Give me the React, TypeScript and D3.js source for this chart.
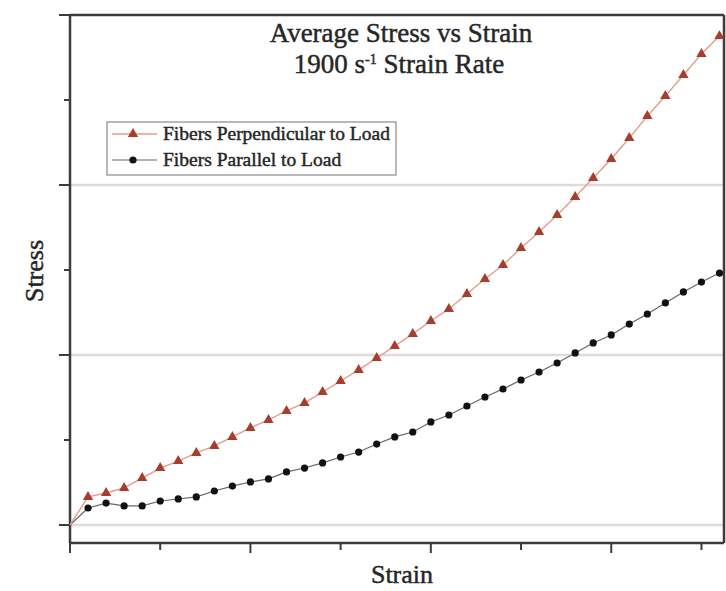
import React from 'react';
import * as d3 from 'd3';

const WIDTH = 726;
const HEIGHT = 591;

// strain values (one reading every 0.002)
const strain = [
  0, 0.002, 0.004, 0.006, 0.008, 0.01, 0.012, 0.014, 0.016, 0.018,
  0.02, 0.022, 0.024, 0.026, 0.028, 0.03, 0.032, 0.034, 0.036, 0.038,
  0.04, 0.042, 0.044, 0.046, 0.048, 0.05, 0.052, 0.054, 0.056, 0.058,
  0.06, 0.062, 0.064, 0.066, 0.068, 0.07, 0.072,
];

const perpendicular = [
  0, 16.5, 18.8, 21.8, 27.6, 33.5, 37.6, 42.4, 46.5, 51.8,
  57.1, 61.8, 67.1, 71.8, 78.2, 84.7, 91.2, 98.2, 105.3, 112.4,
  120, 127.1, 135.9, 144.7, 152.9, 162.9, 172.4, 182.4, 192.9, 204.1,
  215.3, 227.6, 240.6, 252.4, 264.7, 277.1, 287.6,
];

const parallel = [
  0, 10, 12.9, 11.2, 11.2, 14.1, 15.3, 16.5, 20, 22.9,
  25.3, 27.1, 31.2, 33.5, 36.5, 40, 42.9, 47.6, 51.8, 54.7,
  60.6, 64.7, 70, 75.3, 80, 85.3, 90, 95.3, 101.2, 107.1,
  111.8, 118.2, 124.1, 130.6, 137.1, 142.9, 148.2,
];

const xMajorTicks = [0, 0.02, 0.04, 0.06];
const xMinorTicks = [0.01, 0.03, 0.05, 0.07];
const yMajorTicks = [0, 100, 200, 300];
const yMinorTicks = [50, 150, 250];

const seriesNames = ['Fibers Perpendicular to Load', 'Fibers Parallel to Load'];

const COLORS = {
  axis: '#3c3c3c',
  grid: '#e0dada',
  text: '#262626',
  perpMarker: '#a63e2f',
  perpLine: '#e59b8b',
  paraMarker: '#111111',
  paraLine: '#666666',
};

const FONT = '"Liberation Serif", "Times New Roman", serif';

// slight stroke so the serif text reads as heavy as the scanned original
const heavy = { stroke: COLORS.text, strokeWidth: 0.45 };

export default function App() {
  const margin = { top: 15, right: 2, bottom: 48, left: 70 };
  const x0 = margin.left;
  const x1 = WIDTH - margin.right;
  const yTop = margin.top;
  const yBottom = HEIGHT - margin.bottom;

  const x = d3.scaleLinear().domain([0, 0.0725]).range([x0, x1]);
  const y = d3.scaleLinear().domain([-10.6, 300]).range([yBottom, yTop]);

  const perpData = strain.map((s, i) => ({ s, v: perpendicular[i] }));
  const paraData = strain.map((s, i) => ({ s, v: parallel[i] }));

  const line = d3.line<{ s: number; v: number }>()
    .x((d) => x(d.s))
    .y((d) => y(d.v));

  const triangle = d3.symbol().type(d3.symbolTriangle).size(46)() || '';

  const legend = { x: 107, y: 122, w: 289, h: 53 };

  return (
    <svg
      width={WIDTH}
      height={HEIGHT}
      style={{ position: 'absolute', left: 0, top: 0, background: '#fff' }}
      fontFamily={FONT}
    >
      <rect x={0} y={0} width={WIDTH} height={HEIGHT} fill="#fff" />

      {/* grid lines at major stress ticks */}
      {yMajorTicks.slice(0, 3).map((t) => (
        <line key={`g${t}`} x1={x0} x2={x1} y1={y(t)} y2={y(t)} stroke={COLORS.grid} strokeWidth={2.5} />
      ))}

      {/* frame */}
      <line x1={x0} x2={x1} y1={yTop} y2={yTop} stroke={COLORS.axis} strokeWidth={2.5} />
      <line x1={x1} x2={x1} y1={yTop} y2={yBottom} stroke={COLORS.axis} strokeWidth={2.5} />
      <line x1={x0} x2={x0} y1={yTop} y2={yBottom} stroke={COLORS.axis} strokeWidth={2.5} />
      <line x1={x0} x2={x1} y1={yBottom} y2={yBottom} stroke={COLORS.axis} strokeWidth={2.5} />

      {/* y ticks */}
      {yMajorTicks.map((t) => (
        <line key={`ym${t}`} x1={x0 - 11} x2={x0} y1={y(t)} y2={y(t)} stroke={COLORS.axis} strokeWidth={2} />
      ))}
      {yMinorTicks.map((t) => (
        <line key={`yn${t}`} x1={x0 - 6} x2={x0} y1={y(t)} y2={y(t)} stroke={COLORS.axis} strokeWidth={2} />
      ))}

      {/* x ticks */}
      {xMajorTicks.map((t) => (
        <line key={`xm${t}`} x1={x(t)} x2={x(t)} y1={yBottom} y2={yBottom + 10} stroke={COLORS.axis} strokeWidth={2} />
      ))}
      {xMinorTicks.map((t) => (
        <line key={`xn${t}`} x1={x(t)} x2={x(t)} y1={yBottom} y2={yBottom + 7} stroke={COLORS.axis} strokeWidth={2} />
      ))}

      {/* series lines */}
      <path d={line(paraData) || ''} fill="none" stroke={COLORS.paraLine} strokeWidth={1.2} />
      <path d={line(perpData) || ''} fill="none" stroke={COLORS.perpLine} strokeWidth={1.4} />

      {/* markers */}
      {paraData.slice(1).map((d, i) => (
        <circle key={`p${i}`} cx={x(d.s)} cy={y(d.v)} r={3.6} fill={COLORS.paraMarker} />
      ))}
      {perpData.slice(1).map((d, i) => (
        <path key={`t${i}`} d={triangle} transform={`translate(${x(d.s)},${y(d.v)})`} fill={COLORS.perpMarker} />
      ))}

      {/* title */}
      <text x={401} y={42} textAnchor="middle" fontSize={27} fill={COLORS.text} {...heavy}>
        Average Stress vs Strain
      </text>
      <text x={399} y={73} textAnchor="middle" fontSize={27} fill={COLORS.text} {...heavy}>
        1900 s<tspan fontSize={14} dy={-9}>-1</tspan>
        <tspan dy={9}> Strain Rate</tspan>
      </text>

      {/* legend */}
      <rect x={legend.x} y={legend.y} width={legend.w} height={legend.h} fill="#fff" stroke="#8a8a8a" strokeWidth={1.2} />
      <line x1={112} x2={157} y1={134} y2={134} stroke={COLORS.perpLine} strokeWidth={1.4} />
      <path d={triangle} transform="translate(133,134)" fill={COLORS.perpMarker} />
      <text x={163} y={140} fontSize={19.5} fill={COLORS.text} {...heavy}>{seriesNames[0]}</text>
      <line x1={112} x2={157} y1={160} y2={160} stroke={COLORS.paraLine} strokeWidth={1.2} />
      <circle cx={133} cy={160} r={3.6} fill={COLORS.paraMarker} />
      <text x={163} y={166} fontSize={19.5} fill={COLORS.text} {...heavy}>{seriesNames[1]}</text>

      {/* axis labels */}
      <text x={402} y={583} textAnchor="middle" fontSize={26} fill={COLORS.text} {...heavy}>Strain</text>
      <text transform="translate(43,271) rotate(-90)" textAnchor="middle" fontSize={26} fill={COLORS.text} {...heavy}>Stress</text>
    </svg>
  );
}
